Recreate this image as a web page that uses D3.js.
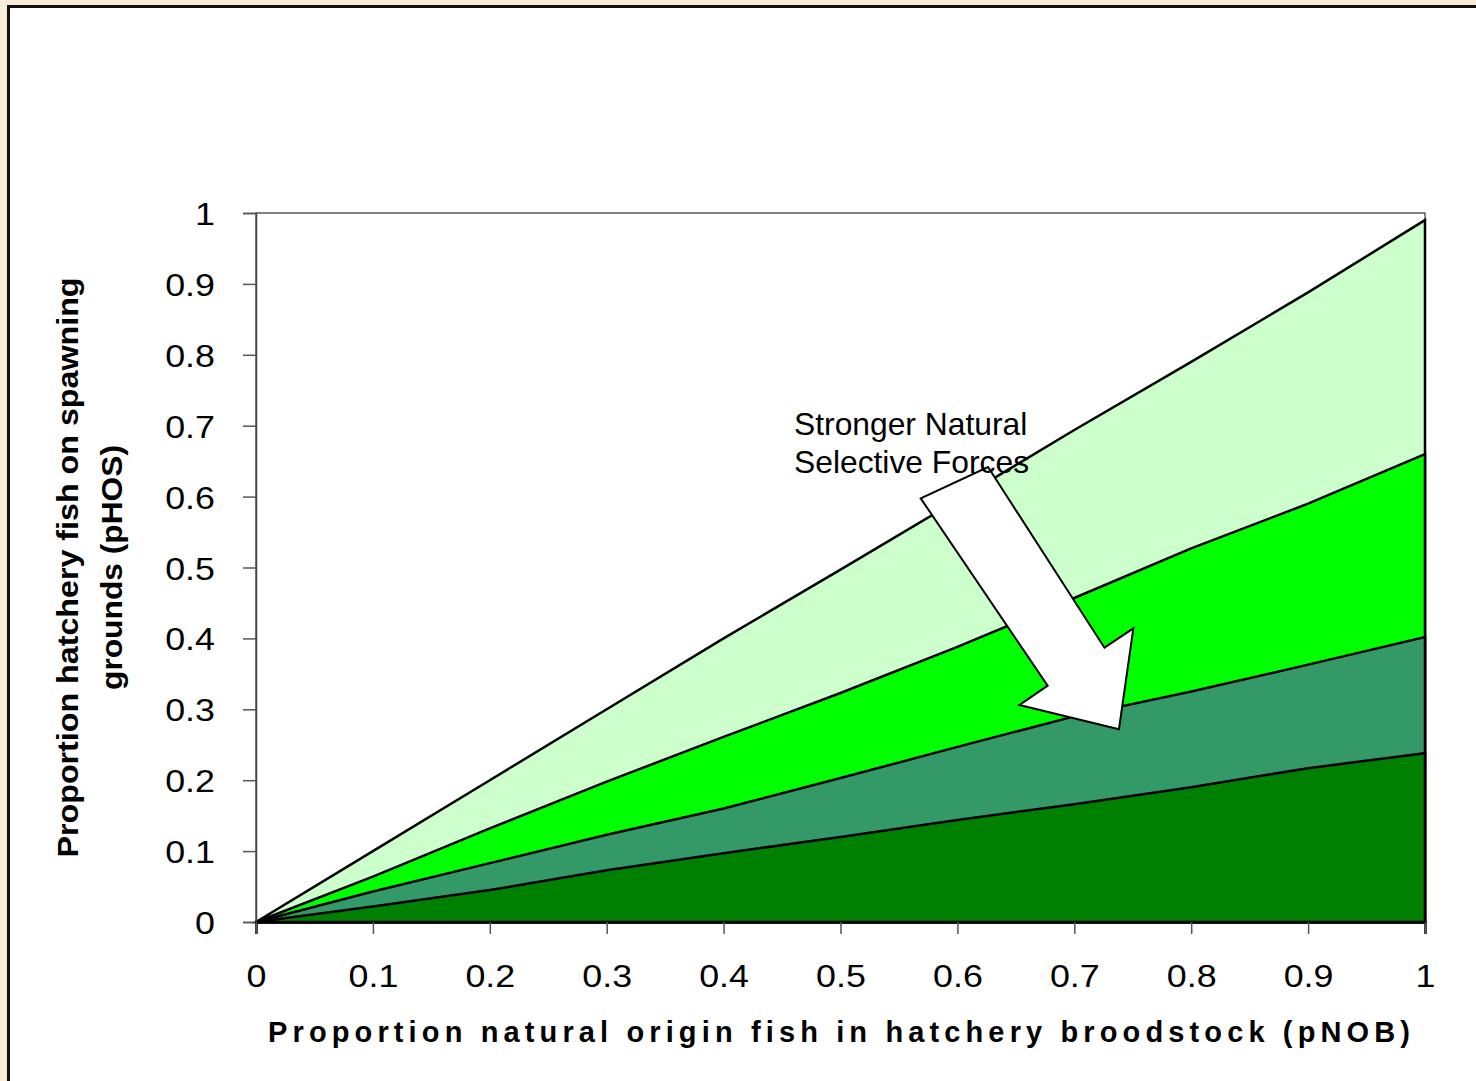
<!DOCTYPE html>
<html>
<head>
<meta charset="utf-8">
<script src="https://cdn.jsdelivr.net/npm/d3@7"></script>
<style>
  html, body { margin: 0; padding: 0; background: #f7ecd6; }
  svg { display: block; }
  text { font-family: "Liberation Sans", Arial, sans-serif; }
</style>
</head>
<body>
<svg id="chart" width="1476" height="1081"></svg>
<script>
// ---- data ----
const pNOB = [0, 0.1, 0.2, 0.3, 0.4, 0.5, 0.6, 0.7, 0.8, 0.9, 1.0];
const seriesWeakest   = [0, 0.100, 0.200, 0.300, 0.400, 0.497, 0.595, 0.694, 0.790, 0.888, 0.990];
const seriesWeak      = [0, 0.064, 0.132, 0.198, 0.261, 0.323, 0.388, 0.457, 0.527, 0.590, 0.660];
const seriesStrong    = [0, 0.043, 0.083, 0.123, 0.160, 0.203, 0.247, 0.290, 0.325, 0.363, 0.402];
const seriesStrongest = [0, 0.022, 0.045, 0.073, 0.097, 0.120, 0.144, 0.166, 0.190, 0.217, 0.238];
const seriesList = [seriesWeakest, seriesWeak, seriesStrong, seriesStrongest];
const seriesColors = ["#ccffcc", "#00ff00", "#339966", "#008000"];
const xTicks = [0, 0.1, 0.2, 0.3, 0.4, 0.5, 0.6, 0.7, 0.8, 0.9, 1];
const yTicks = [0, 0.1, 0.2, 0.3, 0.4, 0.5, 0.6, 0.7, 0.8, 0.9, 1];
const xTitle = "Proportion natural origin fish in hatchery broodstock (pNOB)";
const yTitleLines = ["Proportion hatchery fish on spawning", "grounds (pHOS)"];
const annotationLines = ["Stronger Natural", "Selective Forces"];
// block arrow outline in data units (pNOB, pHOS)
const arrowX = [0.5686, 0.6262, 0.7258, 0.7505, 0.7382, 0.6531, 0.6772];
const arrowY = [0.5976, 0.6417, 0.3869, 0.4142, 0.2718, 0.3061, 0.3333];

// ---- layout ----
const svg = d3.select("#chart");
const W = 1476, H = 1081;
const plot = {left: 256, right: 1425, top: 213, bottom: 922};

svg.append("rect").attr("x", 0).attr("y", 0).attr("width", W).attr("height", H).attr("fill", "#f7ecd6");
svg.append("rect").attr("x", 8.5).attr("y", 6.5).attr("width", W + 10).attr("height", H + 10)
  .attr("fill", "#ffffff").attr("stroke", "#111").attr("stroke-width", 3);

const x = d3.scaleLinear().domain([0, 1]).range([plot.left, plot.right]);
const y = d3.scaleLinear().domain([0, 1]).range([plot.bottom, plot.top]);

// plot border
svg.append("rect").attr("x", plot.left).attr("y", plot.top)
  .attr("width", plot.right - plot.left).attr("height", plot.bottom - plot.top)
  .attr("fill", "none").attr("stroke", "#333").attr("stroke-width", 1.2);

// areas
const area = d3.area().x((d, i) => x(pNOB[i])).y0(y(0)).y1(d => y(d));
seriesList.forEach((s, k) => {
  svg.append("path").datum(s)
    .attr("d", d => area(d))
    .attr("fill", seriesColors[k])
    .attr("stroke", "#000").attr("stroke-width", 2.5).attr("stroke-linejoin", "miter");
});

// axes
const tickFmt = d => d === 0 ? "0" : d === 1 ? "1" : String(d);
const yAxis = svg.append("g").attr("transform", `translate(${plot.left},0)`)
  .call(d3.axisLeft(y).tickValues(yTicks).tickFormat(tickFmt).tickSize(13).tickPadding(28));
const xAxis = svg.append("g").attr("transform", `translate(0,${plot.bottom})`)
  .call(d3.axisBottom(x).tickValues(xTicks).tickFormat(tickFmt).tickSize(12).tickPadding(0));
[yAxis, xAxis].forEach(g => {
  g.select(".domain").attr("stroke", "#444").attr("stroke-width", 1.5);
  g.selectAll(".tick line").attr("stroke", "#555").attr("stroke-width", 1.5);
  g.selectAll(".tick text").attr("fill", "#000").attr("font-size", 32)
    .attr("font-family", "Liberation Sans, Arial, sans-serif");
});
yAxis.selectAll(".tick text").attr("x", null).attr("dy", "0.36em")
  .attr("transform", "translate(-41,0) scale(1.12,1)");
xAxis.selectAll(".tick text").attr("y", null).attr("dy", null)
  .attr("transform", "translate(0,65) scale(1.12,1)");
// black bottom edge over x domain
xAxis.select(".domain").attr("stroke", "#000").attr("stroke-width", 2.5);

// arrow
const arrowPts = arrowX.map((v, i) => [x(v), y(arrowY[i])]);
svg.append("path").attr("d", d3.line()(arrowPts) + "Z")
  .attr("fill", "#fff").attr("stroke", "#000").attr("stroke-width", 2).attr("stroke-linejoin", "miter");

// annotation text
svg.append("text").attr("x", 794).attr("y", 435).attr("font-size", 31.8).attr("fill", "#000")
  .selectAll("tspan").data(annotationLines).join("tspan")
  .attr("x", 794).attr("dy", (d, i) => i === 0 ? 0 : 38).text(d => d);

// axis titles
svg.append("text").attr("x", 268).attr("y", 1042)
  .attr("font-size", 29).attr("font-weight", "bold").attr("fill", "#000")
  .attr("textLength", 1142).attr("lengthAdjust", "spacing")
  .text(xTitle);

const yt = svg.append("g").attr("transform", `translate(0,${(plot.top + plot.bottom) / 2}) rotate(-90)`);
yt.append("text").attr("x", 0).attr("y", 78).attr("text-anchor", "middle")
  .attr("font-size", 29).attr("font-weight", "bold").attr("fill", "#000")
  .attr("textLength", 580).attr("lengthAdjust", "spacingAndGlyphs")
  .text(yTitleLines[0]);
yt.append("text").attr("x", 0).attr("y", 122).attr("text-anchor", "middle")
  .attr("font-size", 29).attr("font-weight", "bold").attr("fill", "#000")
  .attr("textLength", 245).attr("lengthAdjust", "spacingAndGlyphs")
  .text(yTitleLines[1]);
</script>
</body>
</html>
